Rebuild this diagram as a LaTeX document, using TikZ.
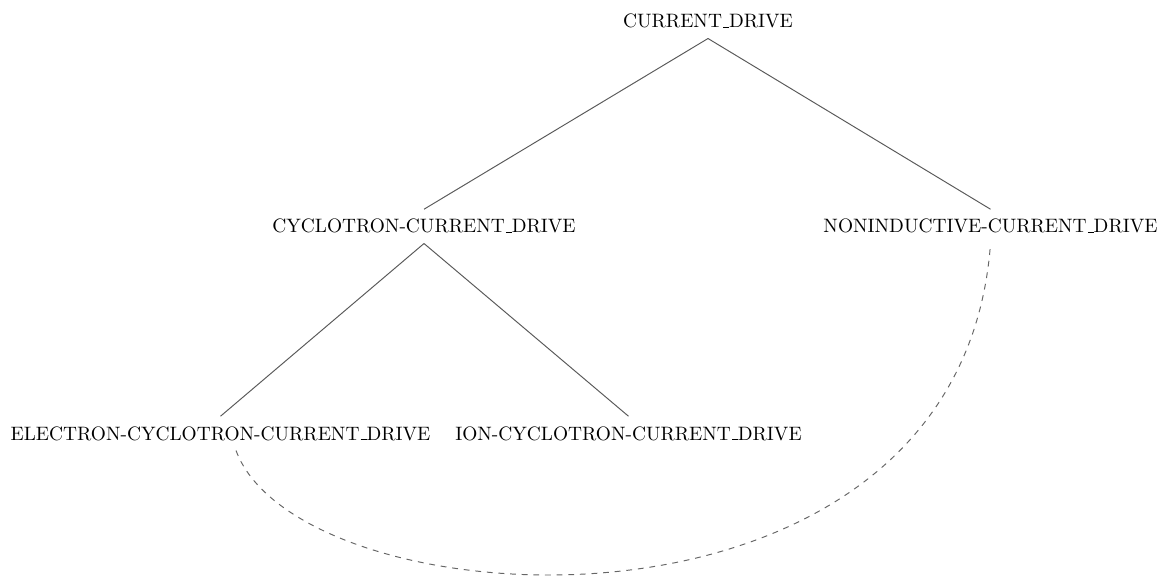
\documentclass[tikz,border=0pt]{standalone}
\usetikzlibrary{calc}
% low, short underscore rule as in classic TeX fonts
\newcommand{\lowbar}{\leavevmode\kern.06em\vbox{\hrule width.3em}}
\begin{document}
\begin{tikzpicture}[x=0.5155pt,y=-0.5155pt,
  concept/.style={inner xsep=2pt,inner ysep=5pt,anchor=base,font=\normalsize},
  branch/.style={draw=black!65,line width=0.5pt},
  link/.style={draw=black!60,line width=0.5pt,dashed}]
  \useasboundingbox (0,0) rectangle (1161,577);
  % concept nodes
  \node[concept] (cd)  at (708,28)    {CURRENT\lowbar DRIVE};
  \node[concept] (cyc) at (424,233)   {CYCLOTRON-CURRENT\lowbar DRIVE};
  \node[concept] (non) at (990.5,233) {NONINDUCTIVE-CURRENT\lowbar DRIVE};
  \node[concept] (ecd) at (220.5,440) {ELECTRON-CYCLOTRON-CURRENT\lowbar DRIVE};
  \node[concept] (icd) at (628.5,440) {ION-CYCLOTRON-CURRENT\lowbar DRIVE};
  % hierarchy
  \draw[branch] (cd.south) -- (cyc.north);
  \draw[branch] (cd.south) -- (non.north);
  \draw[branch] (cyc.south) -- (ecd.north);
  \draw[branch] (cyc.south) -- (icd.north);
  % cross link
  \draw[link] ([xshift=8pt]ecd.south) .. controls (300,625) and (960,665) .. (non.south);
\end{tikzpicture}
\end{document}
